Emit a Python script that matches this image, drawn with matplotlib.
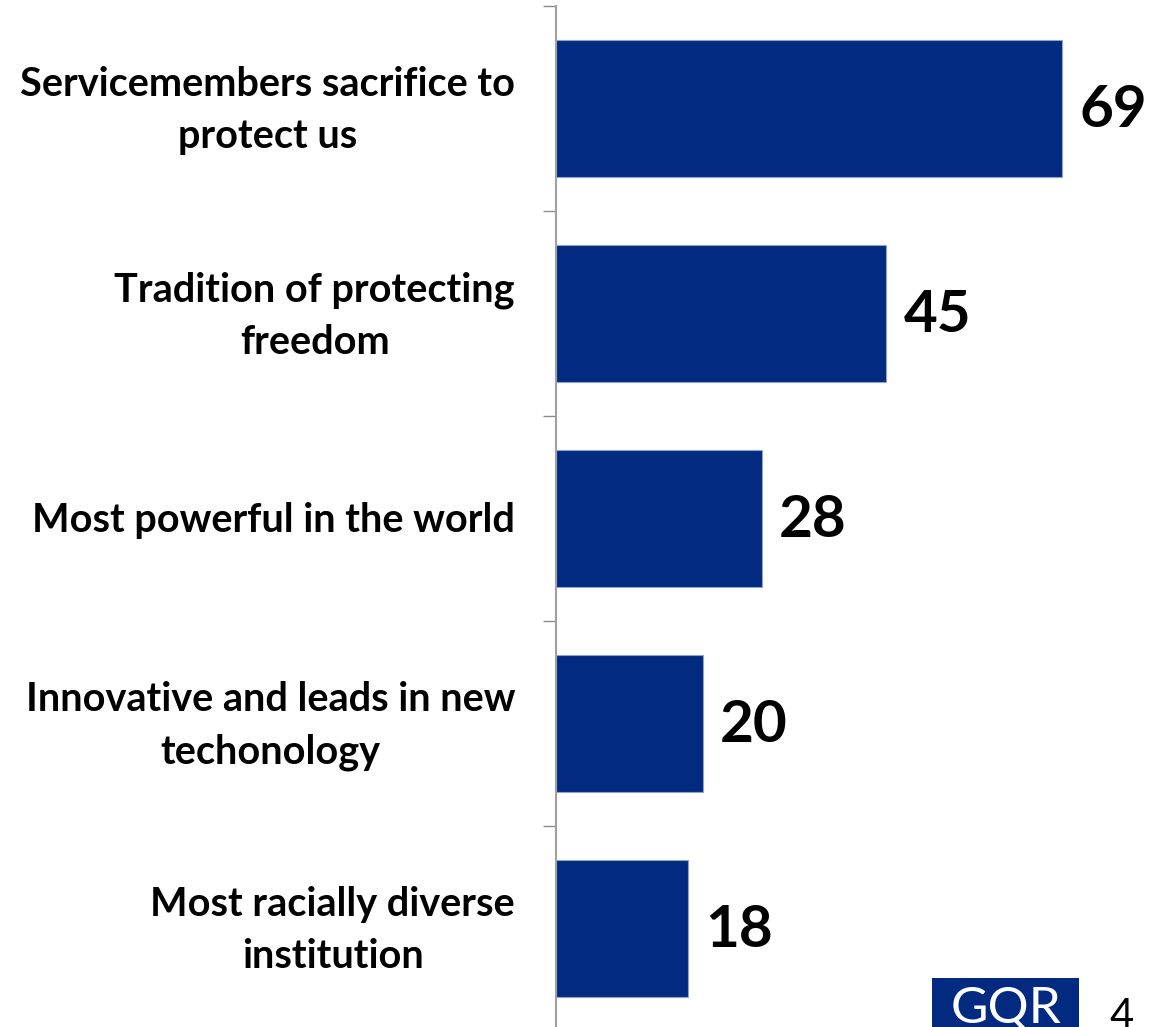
import matplotlib.pyplot as plt
from matplotlib.patches import Rectangle

categories = ["Servicemembers sacrifice to\nprotect us",
              "Tradition of protecting\nfreedom",
              "Most powerful in the world",
              "Innovative and leads in new\ntechonology",
              "Most racially diverse\ninstitution"]
values = [69, 45, 28, 20, 18]

W, H = 1166, 1027
PX = 7.34  # pixels per percentage point
plt.rcParams['font.family'] = ['Lato', 'DejaVu Sans']

fig = plt.figure(figsize=(W / 100, H / 100), dpi=100)
# axes placed in pixel terms: spine at x=556, categories span y=6..1031
ax = fig.add_axes([556 / W, (H - 1031) / H, 610 / W, 1025 / H])

pos = list(range(len(values)))
ax.barh(pos, values, height=0.673, color='#012A80', edgecolor='#8FA3C8', linewidth=0.8)
ax.set_xlim(0, 610 / PX)
ax.set_ylim(len(values) - 0.5, -0.5)

for p, v in zip(pos, values):
    ax.text(v + 17 / PX, p + 0.01, str(v), va='center', ha='left',
            fontsize=42, fontweight='bold', color='black')

# category labels, right aligned at x=515, lines centred within the block
for p, c in zip(pos, categories):
    ax.text(-41 / PX, p + 0.012, c, ha='right', va='center', multialignment='center',
            fontsize=28.5, fontweight='bold', linespacing=1.5, clip_on=False)

ax.set_yticks([p - 0.5 for p in pos] + [len(pos) - 0.5])
ax.set_yticklabels([])
ax.tick_params(axis='y', length=9.5, width=1, color='#8C8C8C')
ax.tick_params(axis='x', bottom=False, labelbottom=False)

for s in ['top', 'right', 'bottom']:
    ax.spines[s].set_visible(False)
ax.spines['left'].set_color('#A0A0A0')
ax.spines['left'].set_linewidth(1.5)

# GQR logo and page number (cut by the bottom edge, as in the slide)
fig.patches.append(Rectangle((932 / W, 0), 147 / W, 49 / H, transform=fig.transFigure,
                             facecolor='#012A80', edgecolor='none', zorder=5))
fig.text(1006 / W, (H - 986) / H, "GQR", color='white', fontsize=37, ha='center', va='top', zorder=6)
fig.text(1122 / W, (H - 998) / H, "4", color='black', fontsize=30, ha='center', va='top')

fig.savefig('out.png', dpi=100)
